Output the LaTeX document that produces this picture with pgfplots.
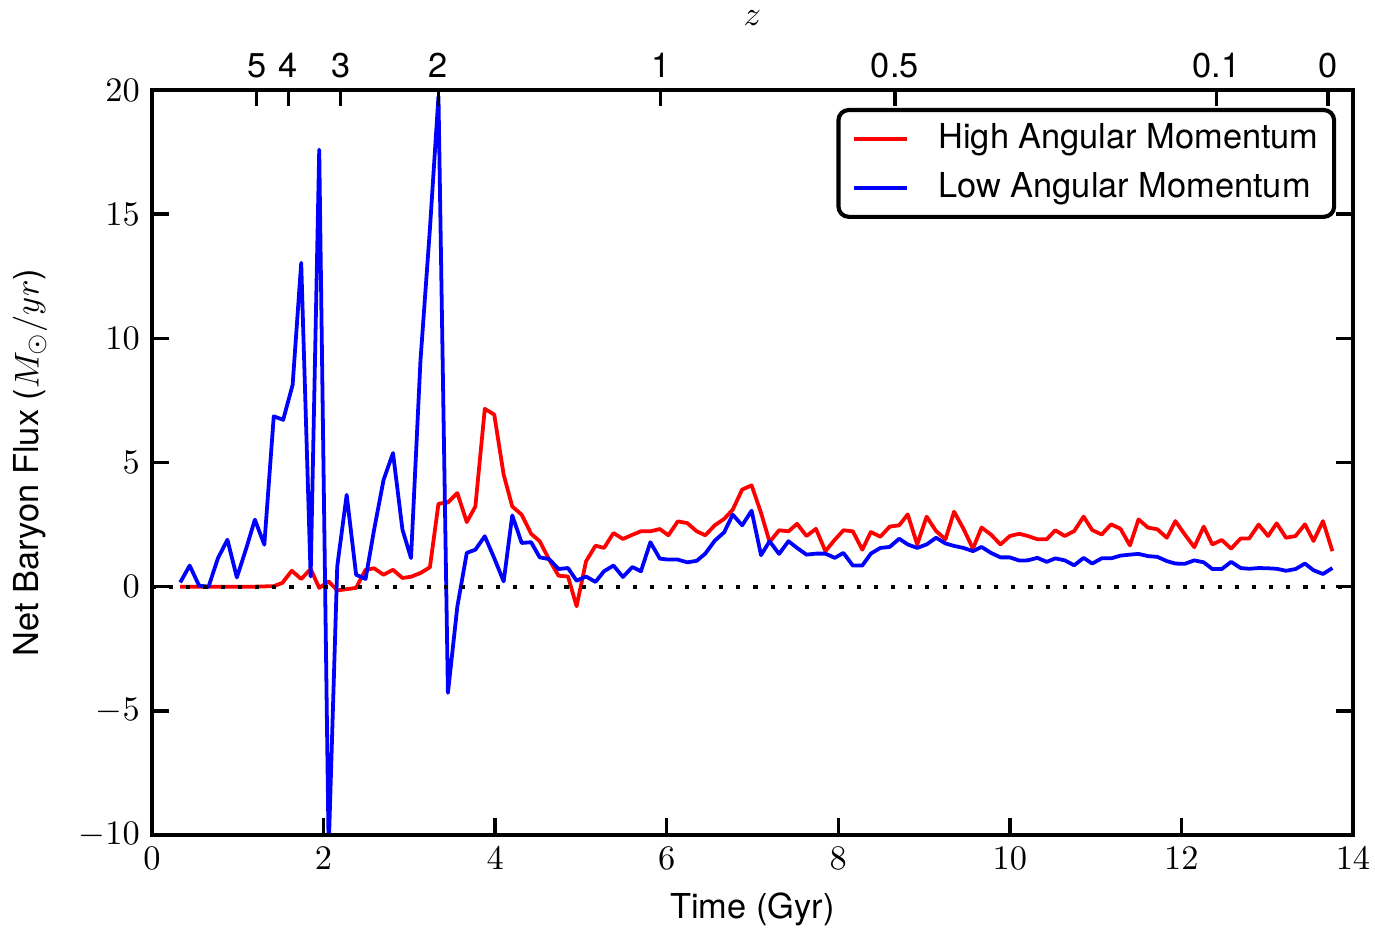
\documentclass[border=0pt]{standalone}
\usepackage[no-math]{fontspec}
\setmainfont{TeX Gyre Heros}
\usepackage{pgfplots}
\pgfplotsset{compat=1.18}

\begin{document}
\begin{tikzpicture}
\begin{axis}[
    name=ax,
    scale only axis,
    width=349.4pt, height=216.7pt,
    xmin=0, xmax=14, ymin=-10, ymax=20,
    xtick={0,2,...,14},
    ytick={-10,-5,...,20},
    xtick pos=left, ytick pos=both,
    tick align=inside,
    major tick length=5pt,
    axis line style={line width=1.2pt},
    every tick/.style={black, line width=1pt},
    xlabel={Time (Gyr)},
    ylabel={Net Baryon Flux ($M_\odot/yr$)},
    every axis x label/.style={at={(axis description cs:0.5,-0.1006)}, anchor=center},
    every axis y label/.style={at={(axis description cs:-0.1016,0.5)}, rotate=90, anchor=center},
    legend style={
        at={(rel axis cs:0.986,0.976)}, anchor=north east,
        draw=black, line width=1.2pt, rounded corners=3pt,
        font=\normalsize, inner xsep=2pt, inner ysep=2pt,
        row sep=1.5pt,
        nodes={inner ysep=2pt, inner xsep=2.5pt},
        /tikz/every odd column/.append style={column sep=6pt},
    },
    legend cell align=left,
    legend image code/.code={\path (0pt,0pt); \draw[#1] (2pt,0pt) -- (17.5pt,0pt);},
]

% high angular momentum
\addplot[red, line width=1.1pt, line join=round] coordinates {
(0.33,0) (0.44,0) (0.55,0) (0.66,0) (0.77,0) (0.88,0) (0.99,0) (1.10,0)
(1.20,0) (1.31,0.01) (1.42,0.02) (1.52,0.15) (1.63,0.64) (1.74,0.31)
(1.85,0.71) (1.95,-0.05) (2.06,0.21) (2.16,-0.15) (2.27,-0.1) (2.38,-0.05)
(2.49,0.68) (2.59,0.74) (2.70,0.48) (2.81,0.68) (2.92,0.35) (3.02,0.4)
(3.13,0.55) (3.24,0.78) (3.34,3.34) (3.45,3.39) (3.56,3.77) (3.67,2.6)
(3.77,3.23) (3.88,7.16) (3.99,6.93) (4.10,4.51) (4.20,3.23) (4.31,2.9)
(4.42,2.13) (4.52,1.83) (4.63,1.09) (4.74,0.44) (4.85,0.41) (4.95,-0.79)
(5.06,1.02) (5.17,1.65) (5.27,1.56) (5.38,2.16) (5.49,1.92) (5.60,2.09)
(5.70,2.23) (5.81,2.23) (5.92,2.32) (6.02,2.07) (6.13,2.63) (6.24,2.56)
(6.35,2.23) (6.45,2.07) (6.56,2.47) (6.67,2.73) (6.77,3.1) (6.88,3.91)
(6.99,4.08) (7.10,2.97) (7.20,1.8) (7.31,2.27) (7.42,2.23) (7.52,2.53)
(7.63,2.04) (7.74,2.33) (7.85,1.43) (7.96,1.89) (8.06,2.27) (8.17,2.23)
(8.28,1.49) (8.38,2.2) (8.49,2.01) (8.60,2.42) (8.71,2.47) (8.81,2.91)
(8.92,1.7) (9.03,2.82) (9.14,2.24) (9.25,1.91) (9.35,3.02) (9.46,2.33)
(9.57,1.53) (9.67,2.38) (9.78,2.1) (9.89,1.7) (10.00,2.04) (10.11,2.13)
(10.21,2.04) (10.32,1.91) (10.43,1.91) (10.53,2.27) (10.64,2.04) (10.75,2.24)
(10.86,2.82) (10.96,2.28) (11.07,2.1) (11.18,2.51) (11.29,2.33) (11.40,1.66)
(11.50,2.71) (11.61,2.38) (11.72,2.31) (11.83,1.97) (11.93,2.64) (12.04,2.1)
(12.15,1.59) (12.26,2.42) (12.36,1.7) (12.47,1.88) (12.58,1.53) (12.69,1.94)
(12.79,1.94) (12.90,2.5) (13.01,2.04) (13.11,2.55) (13.22,1.97) (13.33,2.04)
(13.44,2.51) (13.54,1.84) (13.65,2.64) (13.76,1.43)
};
\addlegendentry{High Angular Momentum}

% low angular momentum
\addplot[blue, line width=1.1pt, line join=round] coordinates {
(0.33,0.17) (0.44,0.85) (0.55,0.04) (0.66,0.0) (0.77,1.15) (0.88,1.89)
(0.99,0.37) (1.10,1.55) (1.20,2.7) (1.31,1.69) (1.42,6.86) (1.53,6.72)
(1.64,8.13) (1.74,13.04) (1.85,0.41) (1.95,17.6) (2.06,-10.6) (2.16,0.82)
(2.27,3.7) (2.38,0.48) (2.49,0.31) (2.59,2.3) (2.70,4.3) (2.81,5.38)
(2.92,2.3) (3.02,1.15) (3.13,9.1) (3.24,14.4) (3.34,19.75) (3.45,-4.28)
(3.56,-0.8) (3.67,1.36) (3.77,1.49) (3.88,2.03) (3.99,1.15) (4.10,0.21)
(4.20,2.87) (4.31,1.76) (4.42,1.79) (4.52,1.18) (4.63,1.11) (4.74,0.71)
(4.85,0.75) (4.95,0.24) (5.06,0.41) (5.17,0.19) (5.27,0.62) (5.38,0.85)
(5.49,0.39) (5.60,0.79) (5.70,0.62) (5.81,1.79) (5.92,1.13) (6.02,1.09)
(6.13,1.09) (6.24,0.98) (6.35,1.04) (6.45,1.33) (6.56,1.85) (6.67,2.19)
(6.77,2.9) (6.88,2.47) (6.99,3.06) (7.10,1.27) (7.20,1.83) (7.31,1.32)
(7.42,1.83) (7.52,1.56) (7.63,1.29) (7.74,1.33) (7.85,1.33) (7.96,1.16)
(8.06,1.36) (8.17,0.85) (8.28,0.85) (8.38,1.33) (8.49,1.56) (8.60,1.6)
(8.71,1.93) (8.81,1.7) (8.92,1.56) (9.03,1.7) (9.14,1.97) (9.25,1.74)
(9.35,1.64) (9.46,1.56) (9.57,1.43) (9.67,1.6) (9.78,1.36) (9.89,1.18)
(10.00,1.18) (10.11,1.05) (10.21,1.06) (10.32,1.16) (10.43,1.0) (10.53,1.14)
(10.64,1.06) (10.75,0.86) (10.86,1.16) (10.96,0.93) (11.07,1.14) (11.18,1.14)
(11.29,1.25) (11.40,1.29) (11.50,1.32) (11.61,1.23) (11.72,1.2) (11.83,1.03)
(11.93,0.93) (12.04,0.92) (12.15,1.06) (12.26,0.98) (12.36,0.71) (12.47,0.71)
(12.58,1.0) (12.69,0.75) (12.79,0.72) (12.90,0.75) (13.01,0.74) (13.11,0.72)
(13.22,0.64) (13.33,0.71) (13.44,0.93) (13.54,0.66) (13.65,0.51) (13.76,0.75)
};
\addlegendentry{Low Angular Momentum}

% zero line
\addplot[black, line width=1.2pt, dash pattern=on 1.2pt off 3.8pt, forget plot]
    coordinates {(0,0) (14,0)};
\end{axis}

% redshift axis on top
\begin{axis}[
    at={(ax.south west)}, anchor=south west,
    scale only axis,
    width=349.4pt, height=216.7pt,
    xmin=0, xmax=14, ymin=-10, ymax=20,
    hide y axis,
    xtick pos=right, xticklabel pos=right,
    tick align=inside,
    major tick length=4.5pt,
    axis line style={line width=1.2pt},
    every tick/.style={black, line width=1pt},
    xtick={1.22,1.59,2.20,3.34,5.93,8.66,12.41,13.71},
    xticklabels={5,4,3,2,1,0.5,0.1,0},
    xlabel={$z$},
    every axis x label/.style={at={(axis description cs:0.5,1.0969)}, anchor=center},
]
\end{axis}

\pgfresetboundingbox
\path[use as bounding box] ([xshift=-44.2pt,yshift=-27.6pt]ax.south west)
    rectangle ([xshift=6.4pt,yshift=26.2pt]ax.north east);
\end{tikzpicture}
\end{document}
